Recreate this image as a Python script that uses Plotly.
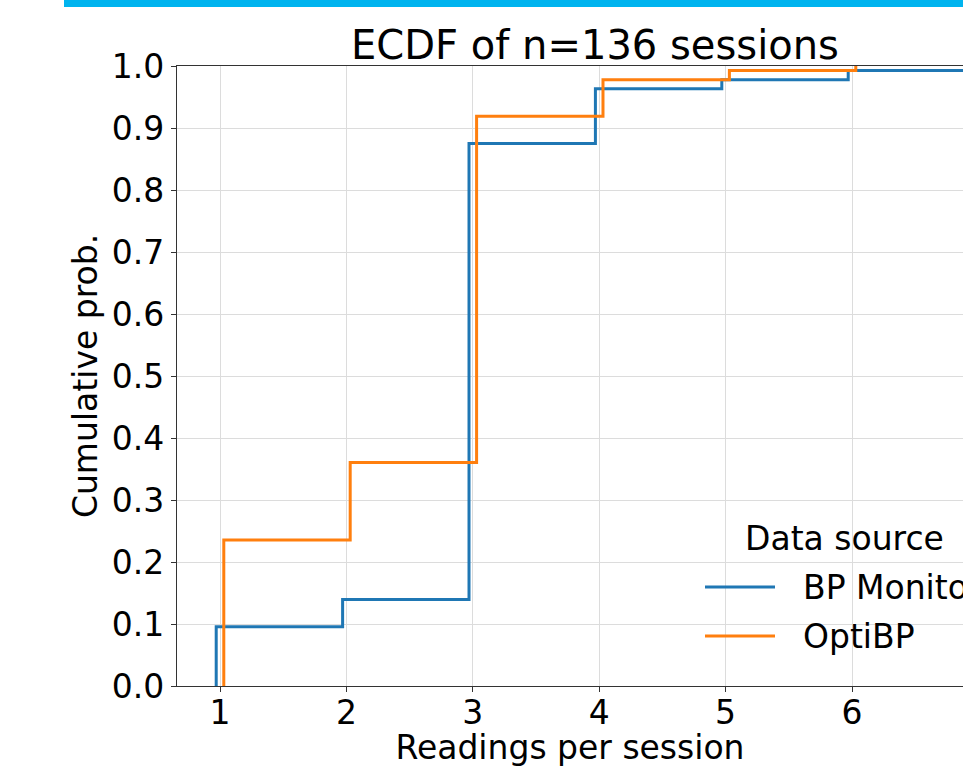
import plotly.graph_objects as go

# ---- data ----
n_sessions = 136
bp_readings = [1, 2, 3, 4, 5, 6, 7]
bp_counts = [13, 19, 119, 131, 133, 135, 136]      # cumulative counts
opti_readings = [1, 2, 3, 4, 5, 6]
opti_counts = [32, 49, 125, 133, 135, 136]         # cumulative counts
series_names = ["BP Monitor", "OptiBP"]
x_ticks = [1, 2, 3, 4, 5, 6, 7]
y_ticks = [0.0, 0.1, 0.2, 0.3, 0.4, 0.5, 0.6, 0.7, 0.8, 0.9, 1.0]

# ---- style ----
colors = ["#1f77b4", "#ff7f0e"]
offsets = [-0.03, 0.03]
FONT = "DejaVu Sans"
W, H = 963, 767
L, R, T, B = 177, 963, 66, 686


def px(xp):
    return (xp - L) / (R - L)


def py(yp):
    return (B - yp) / (B - T)


def ecdf_xy(readings, counts, off):
    xs = [readings[0] + off] + [r + off for r in readings]
    ys = [0.0] + [c / n_sessions for c in counts]
    return xs, ys


fig = go.Figure()
for name, rd, ct, col, off in zip(series_names, [bp_readings, opti_readings],
                                  [bp_counts, opti_counts], colors, offsets):
    xs, ys = ecdf_xy(rd, ct, off)
    fig.add_trace(go.Scatter(x=xs, y=ys, mode="lines", name=name,
                             line=dict(color=col, width=3, shape="hv"),
                             showlegend=False, cliponaxis=True))

# custom legend (matplotlib-like, frameless)
shapes = []
annotations = []
annotations.append(dict(text="Data source", xref="paper", yref="paper",
                        x=px(844), y=py(538), xanchor="center", yanchor="middle",
                        showarrow=False, font=dict(family=FONT, size=33, color="black")))
for name, col, yy in zip(series_names, colors, [587, 636]):
    shapes.append(dict(type="line", xref="paper", yref="paper",
                       x0=px(705), x1=px(775), y0=py(yy), y1=py(yy),
                       line=dict(color=col, width=3.2)))
    annotations.append(dict(text=name, xref="paper", yref="paper",
                            x=px(801), y=py(yy), xanchor="left", yanchor="middle",
                            showarrow=False, font=dict(family=FONT, size=33, color="black")))

# cyan bar at top
shapes.append(dict(type="rect", xref="paper", yref="paper",
                   x0=px(64), x1=px(963), y0=py(7), y1=py(0),
                   line=dict(width=0), fillcolor="#00b4ef", layer="above"))

fig.update_layout(
    width=W, height=H,
    margin=dict(l=L, r=W - R, t=T, b=H - B, pad=0, autoexpand=False),
    paper_bgcolor="white", plot_bgcolor="white",
    font=dict(family=FONT, size=33, color="black"),
    title=dict(text="ECDF of n=136 sessions", x=px(595), xref="paper", xanchor="center",
               y=1 - 45 / H, yref="container", yanchor="middle",
               font=dict(family=FONT, size=40, color="black")),
    shapes=shapes, annotations=annotations,
    showlegend=False,
)
fig.update_xaxes(range=[1 - 43 / 126.4, 1 + (R - 220) / 126.4],
                 tickvals=x_ticks, ticktext=[str(v) for v in x_ticks],
                 showgrid=True, gridcolor="#dcdcdc", gridwidth=1.3,
                 showline=True, linecolor="#333333", linewidth=1.3, mirror=True,
                 ticks="outside", ticklen=5, tickwidth=1.3, tickcolor="#333333",
                 zeroline=False, tickfont=dict(size=33), automargin=False,
                 ticklabelstandoff=-8,
                 title=dict(text="Readings per session", standoff=9, font=dict(size=33)))
fig.update_yaxes(range=[0, 1], tickvals=y_ticks, ticktext=[f"{v:.1f}" for v in y_ticks],
                 showgrid=True, gridcolor="#dcdcdc", gridwidth=1.3,
                 showline=True, linecolor="#333333", linewidth=1.3, mirror=False,
                 ticks="outside", ticklen=5, tickwidth=1.3, tickcolor="#333333",
                 zeroline=False, tickfont=dict(size=33), automargin=False,
                 title=dict(text="Cumulative prob.", standoff=4, font=dict(size=33)))

fig.write_html("out.html", config={"displayModeBar": False},
               post_script="document.body.style.margin='0px';document.body.style.overflow='hidden';")
